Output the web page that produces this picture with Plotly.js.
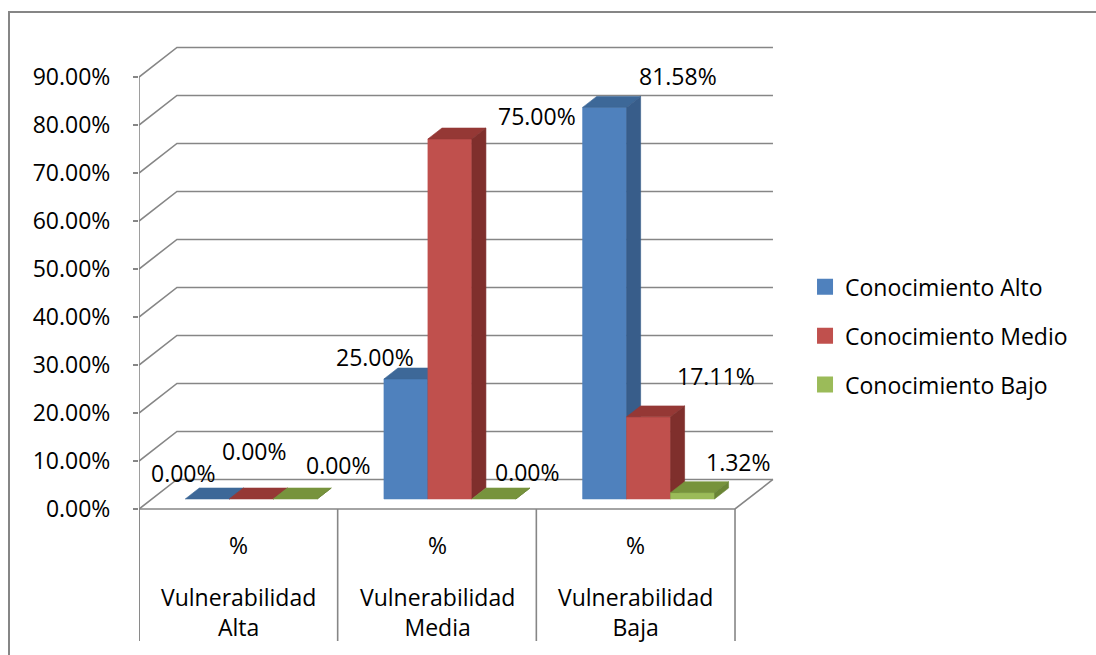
<!DOCTYPE html>
<html>
<head>
<meta charset="utf-8">
<script src="https://cdn.plot.ly/plotly-3.0.1.min.js"></script>
<style>
  html, body { margin: 0; padding: 0; background: #ffffff; }
  #wrap { position: relative; width: 1096px; height: 655px; overflow: hidden; }
  #chart { position: absolute; left: 0; top: 0; width: 1096px; height: 655px; }
  #frame { position: absolute; left: 8px; top: 11px; width: 2000px; height: 2000px;
           border: 2px solid #868686; box-sizing: border-box; pointer-events: none; }
</style>
</head>
<body>
<div id="wrap">
  <div id="chart"></div>
  <div id="frame"></div>
</div>
<script>
// ---- data ----
const categories = ['Vulnerabilidad Alta', 'Vulnerabilidad Media', 'Vulnerabilidad Baja'];
const categoryPrefix = '%';
const seriesNames = ['Conocimiento Alto', 'Conocimiento Medio', 'Conocimiento Bajo'];
const conocimientoAlto = [0.00, 25.00, 81.58];
const conocimientoMedio = [0.00, 75.00, 17.11];
const conocimientoBajo = [0.00, 0.00, 1.32];
const yTicks = [0, 10, 20, 30, 40, 50, 60, 70, 80, 90];

// ---- style ----
const seriesValues = [conocimientoAlto, conocimientoMedio, conocimientoBajo];
const frontColors = ['#4F81BD', '#C0504D', '#9BBB59'];
const topColors = ['#3D6898', '#953835', '#77933C'];
const sideColors = ['#385D8A', '#7F2F2C', '#6A8535'];
const gridColor = '#868686';
const FONT = 'Open Sans, Liberation Sans, sans-serif';

// 3D projection (in axis units)
const DX = 0.191, DY = 6.15;        // depth vector of the whole chart box
const F0 = 0.34, F1 = 0.71;          // bar front / back depth fraction
const GROUP = 0.664;                 // width of a bar group in category units
const BW = GROUP / seriesNames.length;
const yBottom = -27.5;
const nCat = categories.length;
const xLeft = -0.5, xRight = nCat - 0.5;

const traces = [];
function poly(xs, ys, color, lw, lc) {
  traces.push({
    type: 'scatter', mode: 'lines', x: xs, y: ys,
    fill: lw === undefined ? 'toself' : 'none',
    fillcolor: color,
    line: { color: lc || color, width: lw === undefined ? 0.6 : lw },
    hoverinfo: 'skip', showlegend: false
  });
}
function line(xs, ys) {
  traces.push({
    type: 'scatter', mode: 'lines', x: xs, y: ys,
    line: { color: gridColor, width: 1.6 },
    hoverinfo: 'skip', showlegend: false
  });
}

// gridlines (side wall diagonal + back wall horizontal)
yTicks.forEach(v => {
  line([xLeft, xLeft + DX, xRight + DX], [v, v + DY, v + DY]);
});
// floor: front edge and right edge
line([xLeft, xRight, xRight + DX], [0, 0, DY]);
// value axis line
line([xLeft, xLeft], [yBottom, yTicks[yTicks.length - 1]]);
// category dividers
for (let k = 0; k <= nCat; k++) {
  line([xLeft + k, xLeft + k], [yBottom, 0]);
}

// bars
const annotations = [];
const labelShift = [
  [[-24, 26], [-31, 22], [73, 31]],
  [[3, 48], [87, 23], [67, 41]],
  [[43, 34], [34, 27], [46, 31]]
];
for (let j = 0; j < nCat; j++) {
  for (let i = 0; i < seriesNames.length; i++) {
    const v = seriesValues[i][j];
    const xl = j - GROUP / 2 + i * BW + F0 * DX;
    const xr = xl + BW;
    const b = F0 * DY;
    const t = b + v;
    const wx = (F1 - F0) * DX, wy = (F1 - F0) * DY;
    // front
    if (v > 0) poly([xl, xr, xr, xl, xl], [b, b, t, t, b], frontColors[i]);
    // top
    poly([xl, xr, xr + wx, xl + wx, xl], [t, t, t + wy, t + wy, t], topColors[i]);
    // side
    poly([xr, xr + wx, xr + wx, xr, xr], [b, b + wy, t + wy, t, b], sideColors[i]);
    annotations.push({
      x: (xl + xr) / 2, y: t, xref: 'x', yref: 'y',
      text: v.toFixed(2) + '%', showarrow: false,
      xshift: labelShift[i][j][0], yshift: labelShift[i][j][1],
      font: { family: FONT, size: 23, color: '#000000' }
    });
  }
}

// legend entries
seriesNames.forEach((n, i) => {
  traces.push({
    type: 'scatter', mode: 'markers', x: [null], y: [null], name: n,
    legendgroup: 'g' + i,
    marker: { symbol: 'square', size: 16, color: frontColors[i] },
    showlegend: true, hoverinfo: 'skip'
  });
});

// category labels
categories.forEach((c, j) => {
  annotations.push({
    x: j, y: -7.5, xref: 'x', yref: 'y', text: categoryPrefix, showarrow: false,
    font: { family: FONT, size: 23, color: '#000000' }
  });
  annotations.push({
    x: j, y: -21.4, xref: 'x', yref: 'y', text: c.split(' ').join('<br>'), showarrow: false,
    font: { family: FONT, size: 23, color: '#000000' }
  });
});

const layout = {
  width: 1096, height: 655,
  margin: { l: 139, r: 311, t: 40, b: 10 },
  paper_bgcolor: '#ffffff', plot_bgcolor: 'rgba(0,0,0,0)',
  showlegend: true,
  legend: {
    x: 1.031, xanchor: 'left', y: 0.511, yanchor: 'middle',
    traceorder: 'grouped', tracegroupgap: 16,
    font: { family: FONT, size: 23, color: '#000000' },
    bgcolor: 'rgba(0,0,0,0)'
  },
  xaxis: {
    range: [xLeft, xLeft + 646 / 198.67], visible: false, fixedrange: true
  },
  yaxis: {
    range: [-28.333, 97.708],
    tickvals: yTicks, ticktext: yTicks.map(v => v.toFixed(2) + '%'),
    ticks: 'outside', ticklen: 5, tickwidth: 1.6, tickcolor: gridColor,
    ticklabelstandoff: 18,
    showgrid: false, zeroline: false, showline: false,
    tickfont: { family: FONT, size: 23, color: '#000000' },
    fixedrange: true
  },
  annotations: annotations,
  font: { family: FONT }
};

Plotly.newPlot('chart', traces, layout, { displayModeBar: false, staticPlot: true });
</script>
</body>
</html>
